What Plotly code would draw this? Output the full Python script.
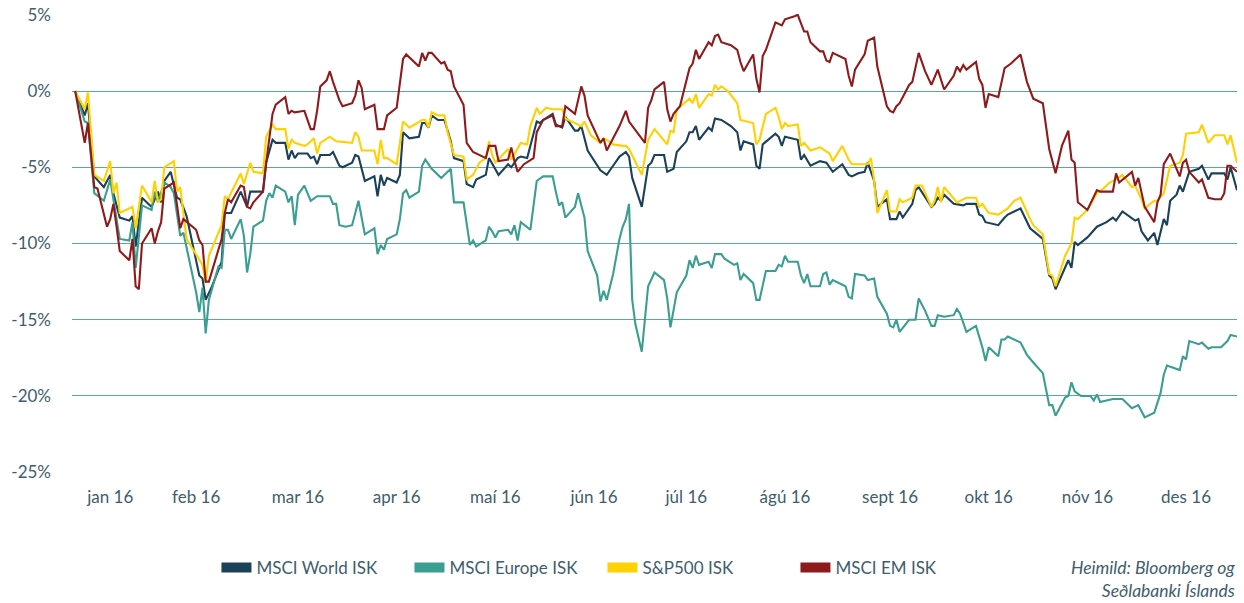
import pandas as pd
import plotly.graph_objects as go

# Days counted from 31 Dec 2015; values = % change since start of year
days_world = [0,3,4,6,9,11,12,14,17,18,19,21,24,26,27,28,30,32,33,35,39,40,41,43,46,47,49,52,54,55,56,59,60,62,63,66,67,68,69,70,73,74,75,76,77,80,81,83,84,87,88,89,91,94,95,96,97,98,101,102,103,105,108,109,110,111,112,114,116,118,119,122,123,125,126,129,130,131,133,136,137,139,140,142,143,145,146,147,150,151,153,154,157,158,159,161,165,167,169,171,173,174,175,178,180,181,182,185,186,188,189,192,193,194,195,196,199,200,201,203,206,208,209,210,213,214,215,216,220,221,222,223,227,228,229,231,234,236,238,241,243,244,246,248,249,251,252,255,256,258,259,260,263,264,265,269,270,271,272,273,276,279,280,283,284,285,286,290,292,293,295,297,300,304,306,307,308,311,312,313,314,315,318,321,324,326,327,329,333,334,335,337,339,340,342,343,344,346,347,348,350,353,354,356,357,361,362,363,365]
msci_world = [0,-1.6,-0.8,-5.6,-6.3,-5.5,-6.7,-8.3,-8.5,-8.2,-10.2,-7.0,-7.6,-6.6,-7.3,-5.9,-5.3,-7.0,-7.1,-8.2,-12.1,-12.3,-13.7,-12.8,-11.2,-8.0,-8.0,-6.6,-7.6,-6.6,-6.6,-6.6,-4.7,-3.2,-3.4,-3.4,-4.5,-3.9,-4.4,-4.1,-4.1,-4.4,-4.3,-4.8,-4.2,-4.2,-4.0,-4.9,-5.0,-4.7,-4.2,-4.3,-5.9,-5.6,-6.9,-5.5,-6.2,-5.7,-6.0,-5.5,-2.7,-3.1,-3.0,-2.1,-2.1,-2.4,-1.6,-1.9,-1.9,-3.3,-4.4,-4.6,-6.1,-6.3,-5.8,-5.5,-4.4,-4.8,-5.5,-4.8,-5.0,-4.4,-4.3,-4.4,-3.6,-2.0,-2.1,-1.9,-1.5,-2.2,-2.4,-1.7,-2.6,-2.6,-2.3,-3.9,-5.2,-5.5,-4.9,-4.3,-4.0,-4.3,-5.7,-7.6,-4.9,-4.7,-4.2,-4.2,-5.3,-5.1,-4.0,-3.3,-2.7,-2.7,-2.3,-3.2,-2.4,-2.6,-1.8,-1.9,-2.3,-2.7,-3.9,-3.3,-3.5,-4.9,-5.1,-3.5,-2.8,-3.0,-3.6,-3.0,-3.2,-4.5,-4.2,-4.9,-4.6,-4.7,-5.3,-4.8,-5.5,-5.6,-5.4,-5.3,-4.7,-5.9,-7.6,-7.1,-8.4,-8.4,-7.9,-8.3,-7.4,-6.5,-6.3,-7.6,-7.4,-7.0,-7.2,-6.8,-7.4,-7.5,-7.4,-7.4,-8.1,-8.2,-8.6,-8.8,-8.3,-8.1,-7.9,-7.7,-9.0,-9.7,-12.1,-12.3,-13.0,-11.6,-11.1,-11.6,-9.9,-10.1,-9.6,-8.9,-8.6,-8.3,-8.5,-7.9,-8.5,-8.4,-9.2,-9.8,-9.3,-10.1,-8.4,-8.8,-7.2,-6.8,-6.2,-6.6,-5.3,-5.1,-4.9,-5.8,-5.4,-5.4,-5.8,-5.0,-6.5]

days_europe = [0,3,4,6,9,11,14,17,18,19,21,24,25,26,28,30,31,33,34,38,39,40,41,42,45,46,47,48,49,52,53,54,55,56,59,60,61,62,63,66,67,68,69,70,72,74,76,80,81,82,83,85,87,89,91,94,95,96,97,98,101,102,103,104,105,108,109,110,112,115,118,119,122,123,124,125,126,129,130,131,132,133,136,137,138,139,140,143,145,147,150,151,152,153,154,157,158,160,161,164,165,166,167,169,171,172,173,174,175,176,178,180,182,185,186,187,189,192,193,194,195,196,199,200,201,203,204,207,208,209,210,213,214,215,217,220,221,222,223,224,227,228,229,230,231,234,235,236,237,238,242,243,244,245,248,249,251,252,255,256,257,258,259,262,264,265,267,269,270,271,273,276,277,278,280,283,285,286,287,290,291,292,293,297,299,301,304,306,307,308,311,312,313,314,316,319,320,321,322,326,328,329,332,334,336,339,341,342,343,347,348,349,350,353,354,356,357,360,362,363,365]
msci_europe = [0,-2.0,-2.1,-6.7,-7.2,-5.8,-9.7,-9.8,-8.6,-11.6,-7.5,-7.8,-6.6,-7.3,-6.0,-6.3,-6.7,-9.5,-9.3,-13.2,-14.5,-12.9,-15.9,-13.7,-11.5,-11.6,-9.1,-9.1,-9.7,-8.4,-9.5,-11.9,-10.7,-8.9,-8.5,-7.2,-6.7,-7.0,-6.2,-6.6,-7.3,-6.9,-8.8,-6.8,-6.2,-7.2,-6.9,-6.9,-7.4,-7.4,-8.8,-8.9,-8.8,-7.2,-9.4,-9.0,-10.7,-10.1,-10.4,-9.7,-9.4,-8.4,-6.7,-6.5,-7.0,-6.6,-4.9,-4.5,-5.1,-5.7,-5.1,-7.3,-7.3,-8.6,-10.1,-9.8,-10.2,-9.8,-8.9,-9.2,-9.6,-9.2,-9.1,-9.4,-8.8,-9.8,-8.6,-9.1,-5.9,-5.6,-5.6,-6.6,-7.5,-7.3,-8.3,-7.6,-6.7,-8.3,-10.5,-12.1,-13.8,-13.1,-13.7,-12.0,-9.7,-8.9,-8.4,-7.4,-13.7,-15.3,-17.1,-12.8,-11.9,-12.4,-13.6,-15.5,-13.2,-12.1,-11.1,-11.6,-10.8,-11.4,-11.2,-11.6,-10.7,-10.7,-11.0,-11.4,-11.3,-12.4,-12.0,-12.6,-13.7,-13.7,-11.8,-11.8,-11.4,-11.5,-10.8,-11.2,-11.2,-12.1,-12.6,-12.0,-12.8,-12.8,-12.0,-11.9,-12.7,-12.4,-12.8,-13.5,-13.6,-12.0,-12.1,-12.4,-12.3,-13.5,-14.6,-15.4,-15.5,-15.0,-15.8,-15.0,-15.0,-13.6,-14.4,-15.4,-15.4,-14.7,-14.8,-14.7,-14.3,-14.6,-15.8,-15.4,-16.8,-17.7,-16.8,-17.4,-16.3,-16.3,-16.1,-16.5,-17.3,-17.8,-18.5,-20.6,-20.6,-21.3,-20.1,-20.0,-19.1,-19.7,-20.0,-20.0,-20.3,-19.9,-20.4,-20.2,-20.2,-20.2,-20.8,-20.6,-21.4,-21.1,-19.8,-18.6,-18.0,-18.3,-17.4,-17.6,-16.4,-16.6,-16.5,-16.9,-16.8,-16.8,-16.4,-16.0,-16.1]

days_sp500 = [0,3,4,6,9,11,12,13,14,18,19,21,24,25,26,27,28,31,32,33,35,39,40,41,42,46,47,48,52,53,55,56,59,60,62,63,66,67,68,69,72,73,75,76,77,80,82,87,88,89,90,94,95,96,97,98,101,103,105,109,110,111,112,114,116,117,119,122,123,125,127,129,130,131,132,136,137,140,142,143,145,146,148,150,153,154,159,160,162,165,166,167,169,172,173,174,178,180,182,186,187,188,189,193,194,195,196,199,200,201,202,203,205,208,209,213,214,215,217,220,221,222,223,224,227,228,229,231,234,237,238,241,243,244,249,250,251,252,255,256,258,259,260,263,264,266,269,270,271,272,273,277,280,283,284,285,287,290,292,293,295,297,300,301,304,306,307,308,311,313,314,315,318,321,323,325,327,329,332,333,335,336,339,340,342,344,347,348,349,353,354,356,358,361,362,363,365]
sp500 = [0,-1.2,-0.1,-5.5,-5.9,-4.6,-6.7,-6.0,-8.0,-7.6,-9.0,-6.2,-7.3,-5.9,-7.3,-7.1,-5.0,-4.6,-6.6,-6.3,-9.7,-11.1,-11.4,-12.6,-10.8,-8.8,-6.9,-7.1,-5.4,-6.1,-4.7,-5.3,-5.4,-3.0,-2.2,-2.5,-2.5,-3.8,-3.2,-3.4,-3.6,-3.5,-3.1,-4.1,-3.4,-3.0,-3.3,-3.4,-2.7,-3.0,-3.9,-3.9,-4.8,-3.2,-4.4,-4.4,-4.8,-2.0,-2.4,-1.9,-1.9,-2.4,-1.4,-1.6,-1.6,-2.7,-4.2,-4.3,-5.8,-5.5,-4.7,-4.4,-3.3,-4.2,-4.7,-3.8,-4.5,-3.4,-3.5,-2.3,-1.1,-1.5,-1.1,-1.2,-1.2,-1.8,-2.3,-2.0,-2.9,-3.4,-3.1,-3.2,-3.5,-3.6,-3.6,-3.8,-5.5,-3.2,-2.5,-3.5,-2.6,-2.7,-1.2,-0.5,-0.8,-0.2,-1.1,-0.2,-0.3,0.4,0.1,0.3,0.0,-0.8,-1.9,-2.1,-3.5,-3.2,-1.5,-1.1,-1.7,-2.5,-2.1,-2.3,-2.2,-3.6,-3.4,-3.9,-3.7,-4.1,-4.6,-3.6,-4.5,-4.8,-4.8,-4.4,-5.9,-8.0,-6.5,-7.9,-7.9,-7.1,-7.3,-7.0,-6.2,-6.2,-7.6,-7.2,-6.3,-7.3,-6.3,-7.3,-7.0,-7.0,-7.6,-7.4,-8.0,-8.1,-7.8,-7.7,-7.2,-7.0,-8.4,-8.8,-9.4,-12.0,-12.1,-12.8,-10.8,-10.0,-8.3,-8.4,-7.8,-6.7,-6.4,-6.0,-5.8,-5.5,-6.3,-6.2,-7.1,-7.7,-7.2,-7.2,-6.7,-4.9,-4.7,-4.2,-2.8,-2.7,-2.2,-3.4,-2.9,-2.9,-3.5,-2.9,-4.7]

days_em = [0,3,4,6,7,10,11,12,13,14,17,18,19,20,21,24,25,26,27,28,31,32,33,34,38,39,40,41,42,46,47,48,49,52,53,54,55,56,59,60,62,63,66,67,68,69,72,74,75,76,77,79,80,81,83,84,87,88,89,90,91,94,95,97,98,101,102,103,104,108,109,110,111,112,115,116,117,118,119,122,123,125,129,130,132,133,136,137,138,139,141,144,145,147,150,151,153,154,157,159,160,161,165,166,167,171,173,174,179,180,181,182,185,186,187,188,190,193,194,195,196,199,200,201,202,203,206,208,209,210,213,214,215,216,217,220,222,223,226,227,229,230,231,234,235,236,237,238,242,243,244,245,248,249,251,252,255,256,257,258,259,262,263,265,267,269,271,273,276,277,278,279,280,283,284,285,286,287,290,292,294,297,299,301,304,306,308,310,312,313,314,315,318,321,322,326,327,328,332,333,334,336,339,340,341,342,344,347,348,349,350,353,354,356,358,360,361,362,363,365]
msci_em = [0,-3.4,-2.1,-6.3,-6.4,-8.9,-8.4,-7.4,-8.9,-10.5,-11.1,-9.7,-12.8,-13.0,-10.0,-9.0,-10.0,-9.2,-8.6,-6.4,-6.0,-7.7,-9.0,-8.4,-9.1,-9.8,-10.1,-12.5,-12.5,-9.7,-8.0,-7.1,-7.3,-6.2,-6.3,-7.6,-7.7,-7.3,-6.6,-4.7,-1.5,-0.9,-0.4,-1.5,-1.3,-1.4,-1.3,-2.5,-2.5,-1.3,0.3,0.7,1.3,0.6,-0.6,-1.0,-0.8,-0.3,0.7,0.2,-1.2,-0.9,-2.5,-2.5,-1.6,-1.1,0.5,2.1,2.4,1.6,2.5,2.0,2.5,2.5,1.8,1.9,1.4,1.3,0.3,-0.9,-3.4,-4.0,-4.4,-3.6,-3.6,-4.6,-4.5,-3.7,-4.6,-5.3,-4.8,-4.4,-2.7,-1.9,-1.6,-2.3,-2.3,-1.0,-1.5,0.3,-0.3,-1.6,-3.4,-3.1,-3.9,-2.3,-1.3,-2.0,-3.4,-1.1,-0.6,0.1,0.6,-1.2,-2.0,-1.5,-1.0,1.5,1.8,2.7,2.1,3.2,3.0,3.6,3.7,3.2,3.0,2.7,1.9,1.3,2.4,0.8,-0.1,2.3,2.7,4.5,4.3,4.7,4.9,5.0,3.9,3.9,3.2,2.6,2.6,2.0,1.9,2.5,2.1,1.0,0.3,1.4,2.4,3.3,3.5,1.6,-1.0,-1.3,-1.4,-1.0,-0.8,0.4,0.6,2.5,1.3,0.4,1.4,0.1,1.0,1.6,1.3,1.7,1.4,1.9,0.8,0.4,-1.1,-0.2,-0.4,1.5,1.8,2.4,0.6,-0.5,-0.8,-3.8,-5.4,-3.6,-2.6,-4.5,-4.7,-7.3,-7.8,-6.5,-6.6,-6.6,-5.4,-6.0,-5.3,-6.2,-5.7,-7.6,-8.6,-7.3,-6.8,-4.8,-4.1,-5.6,-4.7,-4.5,-5.3,-6.0,-5.8,-7.0,-7.1,-7.1,-6.7,-4.9,-4.9,-5.3]

series_names = ["MSCI World ISK", "MSCI Europe ISK", "S&P500 ISK", "MSCI EM ISK"]
series_days = [days_world, days_europe, days_sp500, days_em]
series_values = [msci_world, msci_europe, sp500, msci_em]
series_colors = ["#1b4159", "#3a9e90", "#ffd100", "#8e1a1c"]

month_tick_dates = ["2016-01-11", "2016-02-07", "2016-03-10", "2016-04-10", "2016-05-11", "2016-06-11",
                    "2016-07-10", "2016-08-10", "2016-09-12", "2016-10-13", "2016-11-13", "2016-12-14"]
month_labels = ["jan 16", "feb 16", "mar 16", "apr 16", "maí 16", "jún 16",
                "júl 16", "ágú 16", "sept 16", "okt 16", "nóv 16", "des 16"]
y_ticks = [5, 0, -5, -10, -15, -20, -25]
y_labels = ["5%", "0%", "-5%", "-10%", "-15%", "-20%", "-25%"]

base = pd.Timestamp("2015-12-31")
FONT = "Lato"
TXT = "#3e5d6d"
GRID = "#5aa99c"

fig = go.Figure()
for name, d, v, c in zip(series_names, series_days, series_values, series_colors):
    x = base + pd.to_timedelta(d, unit="D")
    fig.add_trace(go.Scatter(x=x, y=v, mode="lines", name=name,
                             line=dict(color=c, width=2.1), showlegend=False))
# legend entries with thick swatches
for name, c in zip(series_names, series_colors):
    fig.add_trace(go.Scatter(x=[None], y=[None], mode="lines", name=name,
                             line=dict(color=c, width=10), showlegend=True))

fig.update_layout(
    width=1244, height=603,
    margin=dict(l=72, r=7, t=14, b=130),
    paper_bgcolor="white", plot_bgcolor="white",
    font=dict(family=FONT, size=17, color=TXT),
    xaxis=dict(
        type="date", automargin=False,
        range=["2015-12-30", "2016-12-30"],
        tickvals=month_tick_dates, ticktext=month_labels,
        showgrid=False, zeroline=False, showline=False,
        ticks="", ticklabelstandoff=12,
        tickfont=dict(family=FONT, size=17, color=TXT),
    ),
    yaxis=dict(
        automargin=False,
        range=[-25.05, 5.05],
        tickvals=y_ticks, ticktext=y_labels,
        showgrid=True, gridcolor=GRID, gridwidth=1,
        zeroline=False, showline=False, ticks="",
        ticklabelstandoff=20,
        tickfont=dict(family=FONT, size=17, color=TXT),
    ),
    legend=dict(
        orientation="h", x=0.124, xanchor="left", y=-0.207, yanchor="middle",
        entrywidth=148, entrywidthmode="pixels",
        font=dict(family=FONT, size=17, color=TXT),
        bgcolor="rgba(0,0,0,0)",
    ),
    annotations=[dict(
        text="Heimild: Bloomberg og<br>Seðlabanki Íslands",
        xref="paper", yref="paper", x=1, y=-0.232,
        xanchor="right", yanchor="middle", align="right", showarrow=False,
        font=dict(family=FONT, size=17.5, color=TXT, style="italic"),
    )],
)

fig.write_html("out.html", config={"displayModeBar": False},
               post_script="document.body.style.margin='0';")
